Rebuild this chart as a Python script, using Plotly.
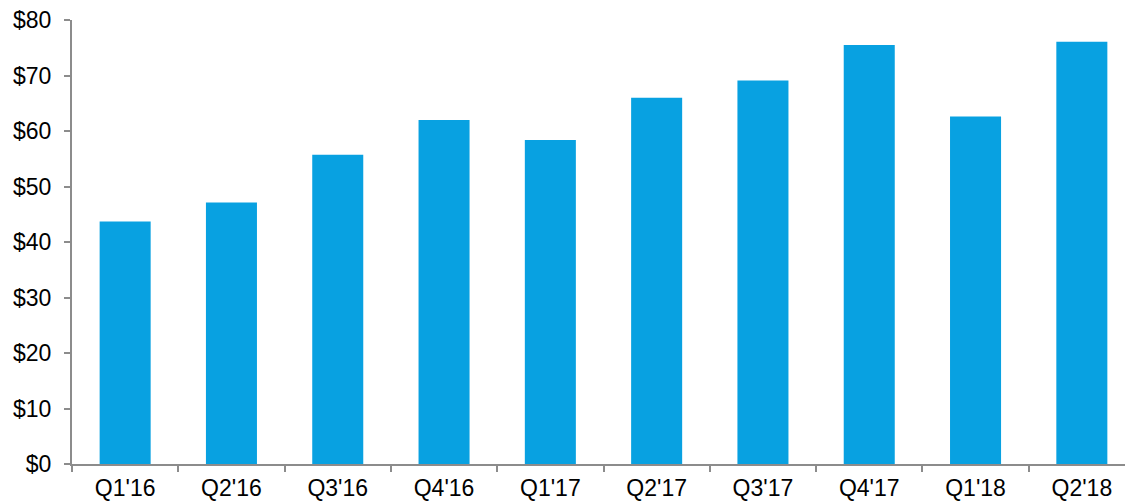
import plotly.graph_objects as go

categories = ["Q1'16", "Q2'16", "Q3'16", "Q4'16", "Q1'17", "Q2'17", "Q3'17", "Q4'17", "Q1'18", "Q2'18"]
values = [43.7, 47.1, 55.7, 62.0, 58.4, 66.0, 69.1, 75.5, 62.6, 76.1]
y_ticks = [0, 10, 20, 30, 40, 50, 60, 70, 80]
y_tick_labels = ["$" + str(v) for v in y_ticks]

fig = go.Figure(
    go.Bar(
        x=categories,
        y=values,
        marker=dict(color="#08A1E1", line=dict(width=0)),
        width=0.48,
    )
)

axis_color = "#8c8c8c"
font = dict(family="Liberation Sans, Arial, sans-serif", size=23, color="#000000")

fig.update_layout(
    width=1125,
    height=503,
    margin=dict(l=72, r=0, t=20, b=39, autoexpand=False),
    paper_bgcolor="white",
    plot_bgcolor="white",
    showlegend=False,
    font=font,
)

fig.update_xaxes(
    type="category",
    range=[-0.5, 9.406],
    automargin=False,
    showgrid=False,
    showline=True,
    linecolor=axis_color,
    linewidth=2,
    ticks="outside",
    tickson="boundaries",
    ticklen=6,
    tickwidth=2,
    tickcolor=axis_color,
    tickfont=font,
    ticklabelstandoff=2,
)

fig.update_yaxes(
    range=[0, 80],
    automargin=False,
    tickvals=y_ticks,
    ticktext=y_tick_labels,
    showgrid=False,
    zeroline=False,
    showline=True,
    linecolor=axis_color,
    linewidth=2,
    ticks="outside",
    ticklen=6,
    tickwidth=2,
    tickcolor=axis_color,
    tickfont=font,
    ticklabelstandoff=8,
)

fig.write_html(
    "out.html",
    config={"displayModeBar": False},
    post_script="document.body.style.margin='0';document.body.style.padding='0';",
)
